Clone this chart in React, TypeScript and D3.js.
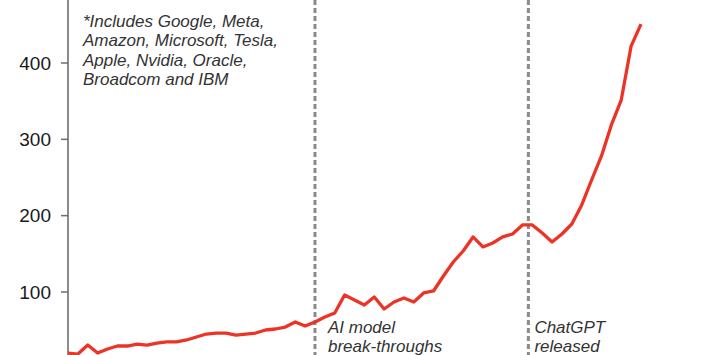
import React from 'react';
import * as d3 from 'd3';

// index value per period
const values = [
  20.0, 18.7, 30.5, 20.0, 25.3, 29.2, 29.2, 31.8, 30.5, 33.1,
  34.5, 34.5, 37.1, 41.0, 44.9, 46.2, 46.2, 43.6, 44.9, 46.2,
  50.2, 51.5, 54.1, 60.7, 55.4, 60.7, 67.2, 72.5, 96.0, 89.5,
  82.9, 93.4, 77.7, 86.9, 92.1, 86.9, 98.7, 101.3, 120.9, 139.3,
  153.7, 172.1, 159.0, 164.2, 172.1, 176.0, 187.8, 187.8, 177.3, 165.5,
  176.0, 189.1, 214.0, 246.7, 278.2, 318.8, 351.5, 422.2, 451.0
];
const yTicks = [100, 200, 300, 400];
const eventPos = [25, 46.6];
const eventLabels = [['AI model', 'break-throughs'], ['ChatGPT', 'released']];
const noteLines = [
  '*Includes Google, Meta,',
  'Amazon, Microsoft, Tesla,',
  'Apple, Nvidia, Oracle,',
  'Broadcom and IBM'
];

const App = () => {
  const width = 717;
  const height = 355;
  const x = d3.scaleLinear().domain([0, values.length - 1]).range([68, 641]);
  const y = d3.scaleLinear().domain([0, 400]).range([368.3, 63]);
  const line = d3.line<number>()
    .x((d, i) => x(i))
    .y(d => y(d));
  const font = 'Arial, "Liberation Sans", sans-serif';
  const axisX = 68;

  return (
    <svg width={width} height={height}
         style={{position: 'absolute', left: 0, top: 0}}>
      <rect width={width} height={height} fill="#fff"/>

      {eventPos.map((p, i) => (
        <line key={'ev' + i} x1={x(p)} x2={x(p)} y1={0} y2={height}
              stroke="#8a8a8a" strokeWidth={3} strokeDasharray="5 3"/>
      ))}

      <line x1={axisX} x2={axisX} y1={0} y2={height} stroke="#6e6e6e" strokeWidth={1.6}/>
      {yTicks.map(t => (
        <g key={t}>
          <line x1={axisX - 7} x2={axisX} y1={y(t)} y2={y(t)} stroke="#6e6e6e" strokeWidth={1.5}/>
          <text x={51} y={y(t)} dy="0.35em" textAnchor="end"
                fontFamily={font} fontSize={19} fill="#1a1a1a">{t}</text>
        </g>
      ))}

      <path d={line(values) || ''} fill="none" stroke="#ec3426" strokeWidth={3.3}
            strokeLinejoin="round"/>

      <text fontFamily={font} fontSize={17} fontStyle="italic" fill="#333">
        {noteLines.map((l, i) => (
          <tspan key={i} x={83} y={27 + i * 19.3}>{l}</tspan>
        ))}
      </text>

      {eventPos.map((p, i) => (
        <text key={'lab' + i} fontFamily={font} fontSize={17} fontStyle="italic" fill="#333">
          {eventLabels[i].map((l, j) => (
            <tspan key={j} x={x(p) + (i === 0 ? 13 : 6)} y={333 + j * 19}>{l}</tspan>
          ))}
        </text>
      ))}
    </svg>
  );
};

export default App;
